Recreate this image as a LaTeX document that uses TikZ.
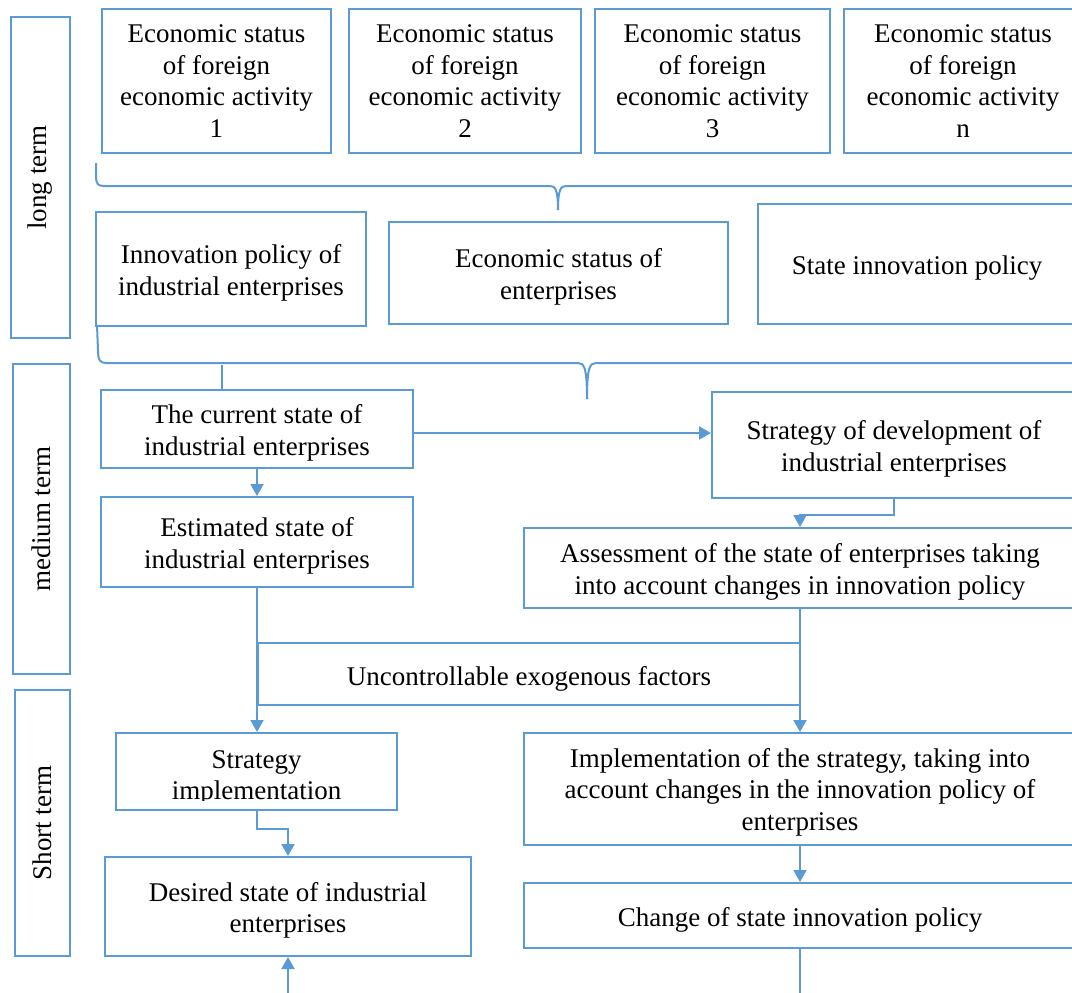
\documentclass[tikz,border=0pt]{standalone}
\usepackage{fontspec}
\setmainfont{Liberation Serif}
\usetikzlibrary{arrows.meta,calc}
\definecolor{bl}{HTML}{5B9BD5}
\newcommand\mybox[6][4]{%
  \node[box,minimum width=#4,minimum height=#5] (#2) at (#3) {};
  \node[txt] (#2-t) at ($(#2.center)+(0,#1)$) {#6};}
\begin{document}
\begin{tikzpicture}[x=1pt,y=-1pt,
  box/.style={draw=bl,line width=2pt,inner sep=0pt},
  txt/.style={font=\fontsize{27}{31.5}\selectfont,align=center,inner sep=0pt},
  ln/.style={draw=bl,line width=2pt},
  arr/.style={draw=bl,line width=2pt,-{Triangle[width=13pt,length=12pt]}}]
\useasboundingbox (0,0) rectangle (1072,993);
\clip (0,0) rectangle (1072,993);
% side labels
\node[box,txt,rotate=90,minimum width=321,minimum height=59] (lt) at (40.5,177.5) {long term};
\node[box,txt,rotate=90,minimum width=310,minimum height=57] (mt) at (41.5,519) {medium term};
\node[box,txt,rotate=90,minimum width=266,minimum height=55] (st) at (42.5,823) {Short term};
% top row
\mybox[0]{e1}{216.5,81}{229}{144}{Economic status\\of foreign\\economic activity\\1}
\mybox[0]{e2}{465,81}{232}{144}{Economic status\\of foreign\\economic activity\\2}
\mybox[0]{e3}{712.5,81}{235}{144}{Economic status\\of foreign\\economic activity\\3}
\mybox[0]{e4}{963,81}{238}{144}{Economic status\\of foreign\\economic activity\\n}
% brace 1
\draw[ln] (96,163) -- (96,176) .. controls (96,184) and (98,186) .. (104,186) -- (550,186)
  .. controls (555,186) and (558,189) .. (558,210);
\draw[ln] (558,210) .. controls (558,189) and (561,186) .. (566,186) -- (1080,186);
% second row
\mybox{ip}{231,269}{270}{114}{Innovation policy of\\industrial enterprises}
\mybox{es}{558.5,273}{339}{102}{Economic status of\\enterprises}
\mybox{sp}{917,264}{318}{120}{State innovation policy}
% brace 2
\draw[ln] (97,325) -- (98,350) .. controls (98,360) and (100,363) .. (106,363) -- (578,363)
  .. controls (584,363) and (587,367) .. (587,399);
\draw[ln] (587,399) .. controls (587,367) and (590,363) .. (596,363) -- (1080,363);
% medium term
\mybox{cs}{257,429}{312}{78}{The current state of\\industrial enterprises}
\mybox{sd}{894,445}{364}{106}{Strategy of development of\\industrial enterprises}
\mybox{est}{257,542}{312}{90}{Estimated state of\\industrial enterprises}
\mybox{as}{800,568}{552}{80}{Assessment of the state of enterprises taking\\into account changes in innovation policy}
\mybox[5]{ux}{529,674}{542}{62}{Uncontrollable exogenous factors}
% short term
\node[box,minimum width=281,minimum height=77] (si) at (256.5,771.5) {};
\begin{scope}
\clip (116,733) rectangle (397,800);
\node[txt] (si-t) at (256.5,778) {Strategy\\implementation};
\end{scope}
\mybox[3]{im}{800,789}{552}{112}{Implementation of the strategy, taking into\\account changes in the innovation policy of\\enterprises}
\mybox{ds}{288,906.5}{366}{99}{Desired state of industrial\\enterprises}
\mybox{ch}{800,915.5}{552}{65}{Change of state innovation policy}
% connectors
\coordinate (b2) at (222,365);
\draw[ln] (b2) -- (b2 |- cs.north);
\draw[arr] ($(cs.east)+(0,4)$) -- ($(sd.west |- cs.east)+(0,4)$);
\draw[arr] (cs.south) -- (est.north);
\draw[arr] (sd.south) -- ++(0,16) -| (as.north);
\draw[arr] (est.south) -- (est.south |- si.north);
\draw[arr] (as.south) -- (im.north);
\draw[arr] (si.south) -- ++(0,18) -| (ds.north);
\coordinate (bl1) at (288,993);
\draw[arr] (bl1) -- (ds.south);
\draw[arr] (im.south) -- (ch.north);
\coordinate (bl2) at (800,993);
\draw[ln] (ch.south) -- (bl2);
\end{tikzpicture}
\end{document}
